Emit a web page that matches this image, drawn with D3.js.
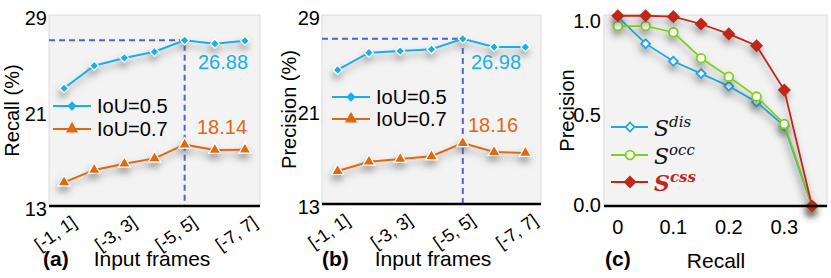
<!DOCTYPE html>
<html>
<head>
<meta charset="utf-8">
<script src="https://cdn.jsdelivr.net/npm/d3@7"></script>
<style>
  html, body { margin: 0; padding: 0; background: #fff; }
  svg { display: block; font-family: "Liberation Sans", Arial, sans-serif; }
</style>
</head>
<body>
<svg id="chart" width="831" height="278"></svg>
<script>
// Frame windows (x categories for a, b)
const frames = ['[-1, 1]', '[-2, 2]', '[-3, 3]', '[-4, 4]', '[-5, 5]', '[-6, 6]', '[-7, 7]'];
const frameTicks = ['[-1, 1]', '[-3, 3]', '[-5, 5]', '[-7, 7]'];
const pctTicks = [13, 21, 29];

// (a) recall, (b) precision
const recall05 = [22.86, 24.75, 25.4, 25.92, 26.88, 26.6, 26.84];
const recall07 = [14.98, 16.02, 16.54, 16.99, 18.14, 17.69, 17.72];
const precision05 = [24.35, 25.81, 25.95, 26.1, 26.98, 26.29, 26.29];
const precision07 = [15.79, 16.58, 16.81, 17.04, 18.16, 17.4, 17.32];

// (c) precision-recall curves
const prRecall = [0, 0.05, 0.1, 0.15, 0.2, 0.25, 0.3, 0.35];
const sDis = [1.01, 0.867, 0.773, 0.707, 0.64, 0.556, 0.427, 0];
const sOcc = [0.961, 0.961, 0.928, 0.789, 0.69, 0.584, 0.438, 0];
const sCss = [1.016, 1.016, 1.011, 0.972, 0.919, 0.856, 0.619, 0];
const prXTicks = [0, 0.1, 0.2, 0.3];
const prYTicks = [0, 0.5, 1.0];

const blue = '#19afe8';
const orange = '#e0680f';
const dashBlue = '#4a66d6';
const cBlue = '#1fa9e1';
const cGreen = '#7fd11b';
const cRed = '#c0261a';

const svg = d3.select('#chart');

// soft shadow under the lines
const defs = svg.append('defs');
const f = defs.append('filter').attr('id', 'shadow')
  .attr('x', '-20%').attr('y', '-40%').attr('width', '140%').attr('height', '180%');
f.append('feDropShadow').attr('dx', -1).attr('dy', 5).attr('stdDeviation', 3.5)
  .attr('flood-color', '#555').attr('flood-opacity', 0.6);

function frame(p) {
  svg.append('rect')
    .attr('x', p.left).attr('y', p.top)
    .attr('width', p.right - p.left).attr('height', p.bottom - p.top)
    .attr('fill', '#f3f3f3').attr('stroke', '#dcdcdc');
}

function bottomLine(p) {
  svg.append('line')
    .attr('x1', p.left).attr('x2', p.right)
    .attr('y1', p.bottom).attr('y2', p.bottom)
    .attr('stroke', '#000').attr('stroke-width', 2.5);
}

function marker(sel, type, size, fill, stroke) {
  sel.attr('d', d3.symbol().type(type).size(size))
    .attr('fill', fill).attr('stroke', stroke).attr('stroke-width', 1.2);
  return sel;
}

function framePanel(p) {
  frame(p);
  const x = d3.scalePoint().domain(frames).range([p.left, p.right]).padding(0.5);
  const y = d3.scaleLinear().domain([13, 29]).range([p.bottom, p.top]);

  // y tick labels
  svg.append('g').selectAll('text').data(pctTicks).join('text')
    .attr('x', p.left - 2).attr('y', d => y(d) + 4)
    .attr('text-anchor', 'end').attr('font-size', 20)
    .attr('dy', '0.32em').text(d => d);

  // y label
  svg.append('text')
    .attr('transform', `translate(${p.ylabX},${(p.top + p.bottom) / 2}) rotate(-90)`)
    .attr('text-anchor', 'middle').attr('font-size', 20).text(p.ylabel);

  // dashed guide to the best window
  const best = frames[4];
  svg.append('path')
    .attr('d', `M${p.left},${y(p.s05[4])}H${x(best)}V${p.bottom}`)
    .attr('fill', 'none').attr('stroke', dashBlue).attr('stroke-width', 2)
    .attr('stroke-dasharray', '6,4');

  const line = d3.line().x((d, i) => x(frames[i])).y(d => y(d));
  [[p.s05, blue, 'diamond'], [p.s07, orange, 'triangle']].forEach(([vals, c, m]) => {
    const g = svg.append('g').attr('filter', 'url(#shadow)');
    g.append('path').attr('d', line(vals)).attr('fill', 'none')
      .attr('stroke', c).attr('stroke-width', 2);
    g.selectAll('path.m').data(vals).join('path').attr('class', 'm')
      .attr('transform', (d, i) => `translate(${x(frames[i])},${y(d)})` + (m === 'diamond' ? ' rotate(45)' : ''))
      .call(s => m === 'diamond'
        ? marker(s, d3.symbolSquare, 40, c, '#fff')
        : marker(s, d3.symbolTriangle, 62, c, '#fff'));
  });

  bottomLine(p);

  // x tick labels (rotated)
  svg.append('g').selectAll('text').data(frameTicks).join('text')
    .attr('transform', d => `translate(${x(d) + 6},${p.bottom + 8}) rotate(-35)`)
    .attr('text-anchor', 'end').attr('dy', '0.75em').attr('font-size', 18)
    .text(d => d);

  // value annotations
  svg.append('text').attr('x', p.ann05[0]).attr('y', p.ann05[1])
    .attr('fill', blue).attr('font-size', 20).text(p.s05[4].toFixed(2));
  svg.append('text').attr('x', p.ann07[0]).attr('y', p.ann07[1])
    .attr('fill', orange).attr('font-size', 20).text(p.s07[4].toFixed(2));

  // legend
  [['IoU=0.5', blue, 'diamond', p.legY[0]], ['IoU=0.7', orange, 'triangle', p.legY[1]]]
    .forEach(([lab, c, m, ly]) => {
      const lx = p.legX;
      svg.append('line').attr('x1', lx).attr('x2', lx + 38).attr('y1', ly).attr('y2', ly)
        .attr('stroke', c).attr('stroke-width', 2);
      svg.append('path')
        .attr('transform', `translate(${lx + 19},${ly})` + (m === 'diamond' ? ' rotate(45)' : ''))
        .call(s => m === 'diamond'
          ? marker(s, d3.symbolSquare, 30, c, c)
          : marker(s, d3.symbolTriangle, 45, c, c));
      svg.append('text').attr('x', lx + 44).attr('y', ly).attr('dy', '0.36em')
        .attr('font-size', 20).text(lab);
    });

  // caption
  svg.append('text').attr('x', p.capX).attr('y', 266).attr('font-size', 21)
    .attr('font-weight', 'bold').text(p.cap);
  svg.append('text').attr('x', p.xlabX).attr('y', 266).attr('font-size', 21)
    .attr('text-anchor', 'middle').text('Input frames');
}

framePanel({
  left: 49, right: 260, top: 15, bottom: 206,
  s05: recall05, s07: recall07, ylabel: 'Recall (%)', ylabX: 19,
  ann05: [198, 69], ann07: [197, 134], legX: 53, legY: [106, 129],
  cap: '(a)', capX: 43, xlabX: 152
});

framePanel({
  left: 322, right: 541, top: 15, bottom: 204,
  s05: precision05, s07: precision07, ylabel: 'Precision (%)', ylabX: 296,
  ann05: [471, 69], ann07: [468, 132], legX: 332, legY: [97, 119],
  cap: '(b)', capX: 322, xlabX: 433
});

// (c) precision-recall
(function () {
  const p = {left: 604, right: 827, top: 15, bottom: 206};
  frame(p);
  const x = d3.scaleLinear().domain([-0.025, 0.377]).range([p.left, p.right]);
  const y = d3.scaleLinear().domain([0, 1.02]).range([p.bottom, p.top]);

  svg.append('g').selectAll('text').data(prYTicks).join('text')
    .attr('x', p.left - 3).attr('y', d => y(d) + (d === 0 ? 0 : 3))
    .attr('dy', '0.32em').attr('text-anchor', 'end').attr('font-size', 20)
    .text(d => d3.format('.1f')(d));

  svg.append('text')
    .attr('transform', `translate(574,${(p.top + p.bottom) / 2}) rotate(-90)`)
    .attr('text-anchor', 'middle').attr('font-size', 20).text('Precision');

  const line = d3.line().x((d, i) => x(prRecall[i])).y(d => y(d));
  const series = [
    {vals: sDis, c: cBlue, fill: '#fff', type: d3.symbolSquare, size: 40, rot: 45},
    {vals: sOcc, c: cGreen, fill: '#fff', type: d3.symbolCircle, size: 60, rot: 0},
    {vals: sCss, c: cRed, fill: cRed, type: d3.symbolSquare, size: 56, rot: 45}
  ];
  series.forEach(s => {
    const g = svg.append('g').attr('filter', 'url(#shadow)');
    g.append('path').attr('d', line(s.vals)).attr('fill', 'none')
      .attr('stroke', s.c).attr('stroke-width', 1.8);
    g.selectAll('path.m').data(s.vals).join('path').attr('class', 'm')
      .attr('transform', (d, i) => `translate(${x(prRecall[i])},${y(d)}) rotate(${s.rot})`)
      .attr('d', d3.symbol().type(s.type).size(s.size))
      .attr('fill', s.fill).attr('stroke', s.c).attr('stroke-width', 1.8);
  });

  bottomLine(p);

  svg.append('g').selectAll('text').data(prXTicks).join('text')
    .attr('x', d => x(d)).attr('y', 234).attr('text-anchor', 'middle')
    .attr('font-size', 20).text(d => d === 0 ? '0' : d3.format('.1f')(d));

  // legend
  const leg = [
    {sup: 'dis', s: series[0], y: 127, color: '#111', bold: false},
    {sup: 'occ', s: series[1], y: 155, color: '#111', bold: false},
    {sup: 'css', s: series[2], y: 182, color: cRed, bold: true}
  ];
  leg.forEach(l => {
    svg.append('line').attr('x1', 611).attr('x2', 648).attr('y1', l.y).attr('y2', l.y)
      .attr('stroke', l.s.c).attr('stroke-width', 1.8);
    svg.append('path')
      .attr('transform', `translate(630,${l.y}) rotate(${l.s.rot})`)
      .attr('d', d3.symbol().type(l.s.type).size(l.s.size))
      .attr('fill', l.s.fill).attr('stroke', l.s.c).attr('stroke-width', 1.8);
    const t = svg.append('text').attr('x', 654).attr('y', l.y + 9)
      .attr('font-family', '"DejaVu Serif", "Liberation Serif", serif')
      .attr('font-style', 'italic').attr('fill', l.color)
      .attr('font-weight', l.bold ? 'bold' : 'normal');
    t.append('tspan').attr('font-size', 22).text('S');
    t.append('tspan').attr('font-size', 15).attr('dy', -9).text(l.sup);
  });

  svg.append('text').attr('x', 605).attr('y', 266).attr('font-size', 21)
    .attr('font-weight', 'bold').text('(c)');
  svg.append('text').attr('x', 716).attr('y', 268).attr('font-size', 21)
    .attr('text-anchor', 'middle').text('Recall');
})();
</script>
</body>
</html>
